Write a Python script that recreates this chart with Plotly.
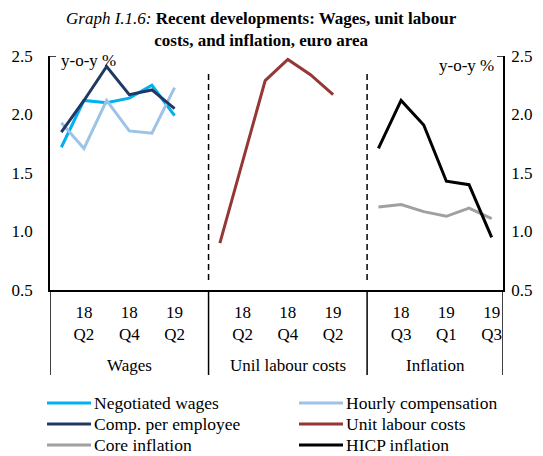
import plotly.graph_objects as go

# ---------------- data ----------------
wage_quarters = ["18Q1", "18Q2", "18Q3", "18Q4", "19Q1", "19Q2"]
ulc_quarters = ["18Q1", "18Q2", "18Q3", "18Q4", "19Q1", "19Q2"]
infl_quarters = ["18Q2", "18Q3", "18Q4", "19Q1", "19Q2", "19Q3"]

negotiated_wages = [1.72, 2.12, 2.10, 2.14, 2.25, 1.99]
hourly_compensation = [1.93, 1.71, 2.12, 1.86, 1.84, 2.23]
comp_per_employee = [1.85, 2.12, 2.41, 2.17, 2.21, 2.05]
unit_labour_costs = [0.90, 1.60, 2.29, 2.47, 2.34, 2.17]
core_inflation = [1.21, 1.23, 1.17, 1.13, 1.20, 1.11]
hicp_inflation = [1.71, 2.12, 1.91, 1.43, 1.40, 0.95]

section_names = ["Wages", "Unil labour costs", "Inflation"]
tick_labels = ["18<br>Q2", "18<br>Q4", "19<br>Q2",
               "18<br>Q2", "18<br>Q4", "19<br>Q2",
               "18<br>Q3", "19<br>Q1", "19<br>Q3"]
y_ticks = [0.5, 1.0, 1.5, 2.0, 2.5]

# ---------------- category axis layout ----------------
GAP = 1  # one empty category between sections
wage_x = list(range(len(wage_quarters)))
ulc_x = [wage_x[-1] + 1 + GAP + i for i in range(len(ulc_quarters))]
infl_x = [ulc_x[-1] + 1 + GAP + i for i in range(len(infl_quarters))]
sep1 = wage_x[-1] + 1.5
sep2 = ulc_x[-1] + 1.5
x_min, x_max = -0.5, infl_x[-1] + 0.5

tick_positions = [wage_x[1], wage_x[3], wage_x[5],
                  ulc_x[1], ulc_x[3], ulc_x[5],
                  infl_x[1], infl_x[3], infl_x[5]]
section_centers = [(x_min + sep1) / 2, (sep1 + sep2) / 2, (sep2 + x_max) / 2]

FONT = "Liberation Serif"
FS = 17
LW = 3
W, H = 543, 456
ML, MR, MT, MB = 50, 40, 56, 166
PW, PH = W - ML - MR, H - MT - MB


def px(xpix):
    return (xpix - ML) / PW


def py(ypix):
    return (H - MB - ypix) / PH


fig = go.Figure()
traces = [
    ("Negotiated wages", wage_x, negotiated_wages, "#00B0F0"),
    ("Hourly compensation", wage_x, hourly_compensation, "#9DC3E6"),
    ("Comp. per employee", wage_x, comp_per_employee, "#1F3864"),
    ("Unit labour costs", ulc_x, unit_labour_costs, "#953735"),
    ("Core inflation", infl_x, core_inflation, "#A0A0A0"),
    ("HICP inflation", infl_x, hicp_inflation, "#000000"),
]
for name, xs, ys, col in traces:
    fig.add_trace(go.Scatter(x=xs, y=ys, name=name, mode="lines",
                             line=dict(color=col, width=LW), cliponaxis=False,
                             showlegend=False))

# invisible trace to activate the right axis
fig.add_trace(go.Scatter(x=[x_min], y=[None], yaxis="y2", showlegend=False,
                         hoverinfo="skip"))

tf = dict(family=FONT, size=FS, color="black")
fig.update_layout(
    width=W, height=H,
    margin=dict(l=ML, r=MR, t=MT, b=MB, autoexpand=False),
    paper_bgcolor="white", plot_bgcolor="white",
    font=dict(family=FONT, size=FS, color="black"),
    showlegend=False,
    xaxis=dict(range=[x_min, x_max], showgrid=False, zeroline=False,
               showline=True, linecolor="black", linewidth=1.5,
               tickmode="array", tickvals=tick_positions, ticktext=tick_labels,
               ticks="", ticklabelstandoff=6, tickfont=tf),
    yaxis=dict(range=[0.5, 2.5], showgrid=False, zeroline=False,
               showline=True, linecolor="black", linewidth=1.5,
               tickmode="array", tickvals=y_ticks,
               ticktext=[f"{v:.1f}" for v in y_ticks],
               ticks="", ticklabelstandoff=12, tickfont=tf),
    yaxis2=dict(range=[0.5, 2.5], overlaying="y", side="right",
                showgrid=False, zeroline=False,
                showline=True, linecolor="black", linewidth=1.5,
                tickmode="array", tickvals=y_ticks,
                ticktext=[f"{v:.1f}" for v in y_ticks],
                ticks="", ticklabelstandoff=3, tickfont=tf),
)

shapes = []
for sx in (sep1, sep2):
    shapes.append(dict(type="line", xref="x", yref="y", x0=sx, x1=sx,
                       y0=0.585, y1=2.355,
                       line=dict(color="black", width=1.5, dash="6px,4px")))
    shapes.append(dict(type="line", xref="x", yref="paper", x0=sx, x1=sx,
                       y0=0, y1=py(375), line=dict(color="black", width=1.5)))
for sx in (x_min, x_max):
    shapes.append(dict(type="line", xref="x", yref="paper", x0=sx, x1=sx,
                       y0=0, y1=py(375), line=dict(color="black", width=1.5)))
shapes.append(dict(type="line", xref="paper", yref="y", x0=0, x1=px(56),
                   y0=2.5, y1=2.5, line=dict(color="black", width=1.5)))
shapes.append(dict(type="line", xref="paper", yref="y", x0=px(W - MR - 6), x1=1,
                   y0=2.5, y1=2.5, line=dict(color="black", width=1.5)))

annotations = [
    dict(text="<i>Graph I.1.6:</i> <b>Recent developments: Wages, unit labour</b><br>"
              "<b>costs, and inflation, euro area</b>",
         xref="paper", yref="paper", x=px(261), y=py(7), xanchor="center",
         yanchor="top", showarrow=False, align="center", font=tf),
    dict(text="y-o-y %", xref="paper", yref="paper", x=px(59), y=py(60),
         xanchor="left", yanchor="middle", showarrow=False, font=tf),
    dict(text="y-o-y %", xref="paper", yref="paper", x=px(496), y=py(66),
         xanchor="right", yanchor="middle", showarrow=False, font=tf),
]
for name, cx in zip(section_names, section_centers):
    annotations.append(dict(text=name, xref="x", yref="paper", x=cx, y=py(365),
                            xanchor="center", yanchor="middle", showarrow=False,
                            font=tf))

# custom two-column legend
leg_cols = [(47, 91, 92), (299, 343, 344)]
leg_rows = [403, 424, 445]
for i, (name, _, _, col) in enumerate(traces):
    r, c = divmod(i, 2)
    x0, x1, xt = leg_cols[c]
    yy = py(leg_rows[r])
    shapes.append(dict(type="line", xref="paper", yref="paper",
                       x0=px(x0), x1=px(x1), y0=yy, y1=yy,
                       line=dict(color=col, width=LW)))
    annotations.append(dict(text=name, xref="paper", yref="paper", x=px(xt), y=yy,
                            xanchor="left", yanchor="middle", showarrow=False,
                            font=dict(family=FONT, size=17.5, color="black")))

fig.update_layout(shapes=shapes, annotations=annotations)
fig.write_html("out.html", config={"displayModeBar": False},
               post_script="document.body.style.margin='0';"
                           "document.body.style.padding='0';")
